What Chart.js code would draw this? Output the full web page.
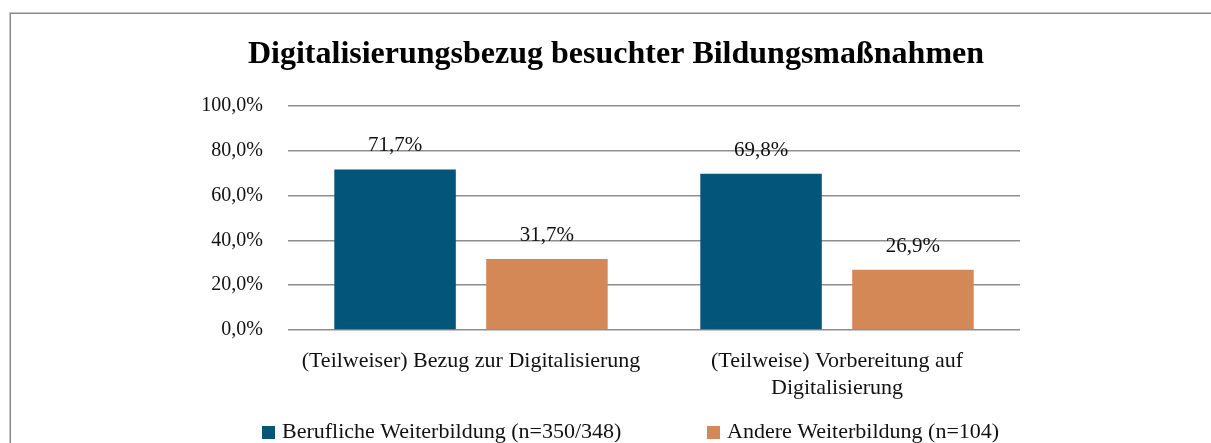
<!DOCTYPE html>
<html lang="de">
<head>
<meta charset="utf-8">
<title>Digitalisierungsbezug besuchter Bildungsmaßnahmen</title>
<script src="https://cdn.jsdelivr.net/npm/chart.js@4.4.1/dist/chart.umd.min.js"></script>
<style>
  html, body { margin: 0; padding: 0; background: #ffffff; }
  #wrap { position: relative; width: 1211px; height: 443px; }
</style>
</head>
<body>
<div id="wrap"><canvas id="chart" width="1211" height="443"></canvas></div>
<script>
// Chart content
const chartTitle = 'Digitalisierungsbezug besuchter Bildungsmaßnahmen';
const categories = [
  '(Teilweiser) Bezug zur Digitalisierung',
  ['(Teilweise) Vorbereitung auf', 'Digitalisierung']
];
const seriesNames = ['Berufliche Weiterbildung (n=350/348)', 'Andere Weiterbildung (n=104)'];
const beruflicheValues = [71.7, 69.8];
const andereValues = [31.7, 26.9];
const yTickValues = [0, 20, 40, 60, 80, 100];

const FONT = '"Liberation Serif", "Times New Roman", serif';
const colors = ['#03557a', '#d38856'];
const gridColor = '#8e8e8e';

const fmtPct = (v, d) => v.toFixed(d).replace('.', ',') + '%';

// Frame, title, value labels and legend
const decorations = {
  id: 'decorations',
  beforeDraw(chart) {
    const ctx = chart.ctx;
    ctx.save();
    ctx.fillStyle = '#ffffff';
    ctx.fillRect(0, 0, chart.width, chart.height);
    ctx.strokeStyle = '#8a8a8a';
    ctx.lineWidth = 1.5;
    ctx.beginPath();
    ctx.moveTo(10.25, chart.height);
    ctx.lineTo(10.25, 13.25);
    ctx.lineTo(chart.width, 13.25);
    ctx.stroke();
    ctx.restore();
  },
  afterDatasetsDraw(chart) {
    const ctx = chart.ctx;
    ctx.save();
    ctx.font = '21px ' + FONT;
    ctx.fillStyle = '#111111';
    ctx.textAlign = 'center';
    ctx.textBaseline = 'alphabetic';
    chart.data.datasets.forEach((ds, i) => {
      chart.getDatasetMeta(i).data.forEach((el, j) => {
        ctx.fillText(fmtPct(ds.data[j], 1), el.x, el.y - 18);
      });
    });
    ctx.restore();
  },
  afterDraw(chart) {
    const ctx = chart.ctx;
    ctx.save();
    // title
    ctx.font = 'bold 32px ' + FONT;
    ctx.fillStyle = '#000000';
    ctx.textAlign = 'center';
    ctx.textBaseline = 'alphabetic';
    ctx.fillText(chartTitle, 616, 63);
    // legend
    const itemX = [262, 707];
    ctx.font = '22px ' + FONT;
    ctx.textAlign = 'left';
    chart.data.datasets.forEach((ds, i) => {
      ctx.fillStyle = ds.backgroundColor;
      ctx.fillRect(itemX[i], 426, 13, 13);
      ctx.fillStyle = '#111111';
      ctx.fillText(ds.label, itemX[i] + 20, 438);
    });
    ctx.restore();
  }
};

new Chart(document.getElementById('chart'), {
  type: 'bar',
  data: {
    labels: categories,
    datasets: [
      { label: seriesNames[0], data: beruflicheValues, backgroundColor: colors[0] },
      { label: seriesNames[1], data: andereValues, backgroundColor: colors[1] }
    ]
  },
  options: {
    responsive: false,
    animation: false,
    devicePixelRatio: 1,
    layout: { padding: { top: 106, right: 191, bottom: 0, left: 0 } },
    datasets: { bar: { categoryPercentage: 0.83, barPercentage: 0.8 } },
    plugins: {
      legend: { display: false },
      title: { display: false },
      tooltip: { enabled: false }
    },
    scales: {
      x: {
        grid: { display: false, drawTicks: false },
        border: { display: false },
        ticks: {
          padding: 18,
          color: '#111111',
          font: { family: FONT, size: 22, lineHeight: 1.23 },
          maxRotation: 0,
          autoSkip: false
        },
        afterFit(scale) { scale.height = 113; }
      },
      y: {
        min: 0,
        max: 100,
        afterBuildTicks(scale) { scale.ticks = yTickValues.map(v => ({ value: v })); },
        grid: { color: gridColor, lineWidth: 1.5, drawTicks: false },
        border: { display: false },
        ticks: {
          padding: 25,
          color: '#111111',
          font: { family: FONT, size: 20 },
          callback: v => fmtPct(v, 1)
        },
        afterFit(scale) { scale.width = 288; }
      }
    }
  },
  plugins: [decorations]
});
</script>
</body>
</html>
